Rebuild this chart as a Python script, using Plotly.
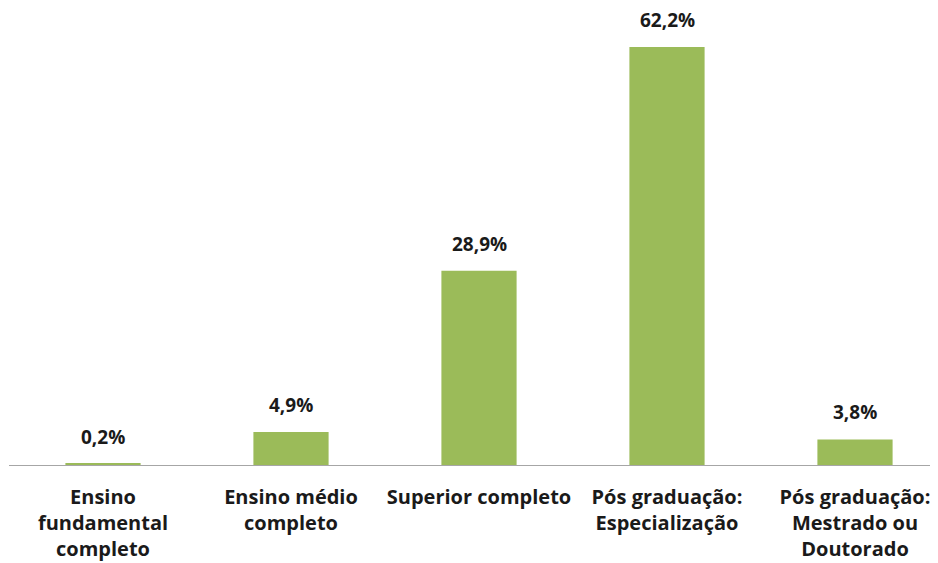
import plotly.graph_objects as go

categories = [
    "Ensino<br>fundamental<br>completo",
    "Ensino médio<br>completo",
    "Superior completo",
    "Pós graduação:<br>Especialização",
    "Pós graduação:<br>Mestrado ou<br>Doutorado",
]
values = [0.2, 4.9, 28.9, 62.2, 3.8]

bar_color = "#9BBB59"
font_family = "Open Sans, Lato, sans-serif"

fig = go.Figure()
fig.add_trace(go.Bar(
    x=list(range(len(categories))),
    y=values,
    marker=dict(color=bar_color, line=dict(width=0)),
    width=0.4,
    hoverinfo="skip",
))

for i, v in enumerate(values):
    fig.add_annotation(
        x=i, y=v, text=f"<b>{v:.1f}%</b>".replace(".", ","),
        showarrow=False, yanchor="bottom", yshift=12,
        font=dict(family=font_family, size=19, color="#1a1a1a"),
    )

fig.update_layout(
    width=938, height=563,
    margin=dict(l=1, r=0, t=0, b=106),
    plot_bgcolor="white", paper_bgcolor="white",
    showlegend=False,
    separators=",.",
    xaxis=dict(
        tickmode="array",
        tickvals=list(range(len(categories))),
        ticktext=[f"<b>{c}</b>" for c in categories],
        range=[-0.5, -0.5 + 937 / 188],
        showline=True, linecolor="#A6A6A6", linewidth=1,
        showgrid=False, zeroline=False, ticks="",
        ticklabelstandoff=14,
        tickfont=dict(family=font_family, size=20, color="#1a1a1a"),
    ),
    yaxis=dict(
        range=[0, 68.0], visible=False, showgrid=False, zeroline=False,
    ),
)

fig.write_html("out.html")
